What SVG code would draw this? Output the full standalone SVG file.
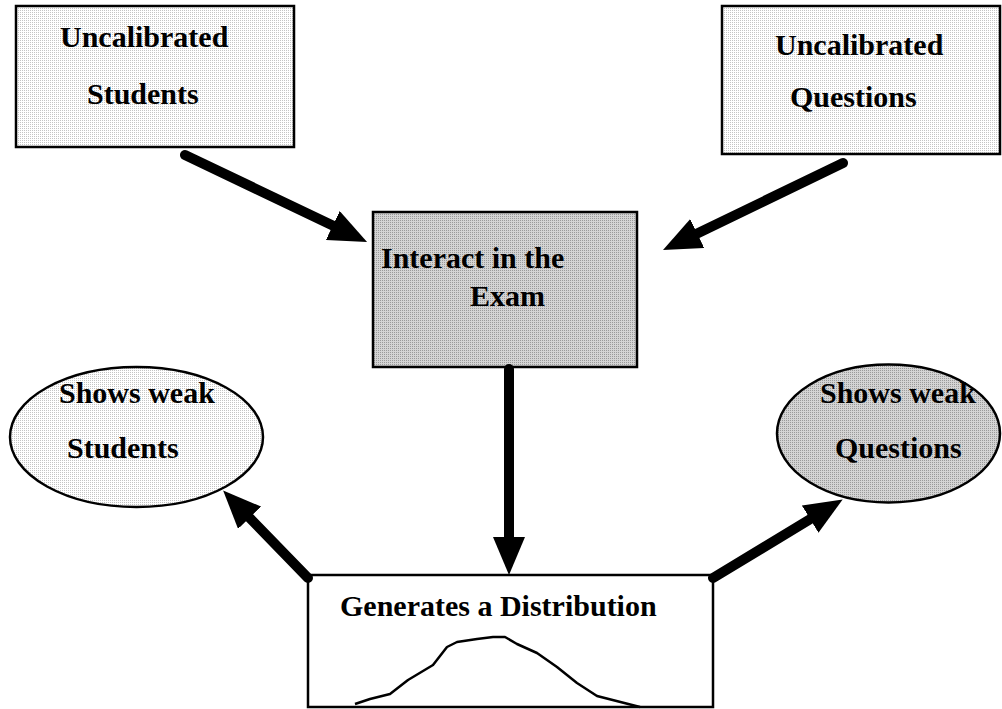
<svg xmlns="http://www.w3.org/2000/svg" width="1002" height="709" viewBox="0 0 1002 709">
  <defs>
    <!-- fine dot screens used as node fills -->
    <pattern id="dotLight" width="2" height="2" patternUnits="userSpaceOnUse">
      <rect width="2" height="2" fill="#ffffff"/>
      <rect width="1" height="1" fill="#c4c4c4"/>
    </pattern>
    <pattern id="dotDark" width="2" height="2" patternUnits="userSpaceOnUse">
      <rect width="2" height="2" fill="#d4d4d4"/>
      <rect width="1" height="1" fill="#9a9a9a"/>
    </pattern>
    <marker id="head" markerUnits="userSpaceOnUse" markerWidth="38" markerHeight="32" refX="8" refY="16" orient="auto">
      <path d="M0,0 L38,16 L0,32 Z" fill="#000"/>
    </marker>
  </defs>
  <style>
    .lbl { font-family: "Liberation Serif", "Times New Roman", serif; font-weight: bold; font-size: 30px; fill: #000; }
    .box { stroke: #000; stroke-width: 2.5; }
    .arrow { stroke: #000; stroke-width: 10; stroke-linecap: round; fill: none; marker-end: url(#head); }
  </style>

  <rect width="1002" height="709" fill="#ffffff"/>

  <g id="uncalibrated-students">
    <rect class="box" x="16" y="6" width="278" height="141" fill="url(#dotLight)"/>
    <text class="lbl" x="60" y="47">Uncalibrated</text>
    <text class="lbl" x="87" y="104">Students</text>
  </g>

  <g id="uncalibrated-questions">
    <rect class="box" x="722" y="6" width="278" height="148" fill="url(#dotLight)"/>
    <text class="lbl" x="775" y="55">Uncalibrated</text>
    <text class="lbl" x="790" y="107">Questions</text>
  </g>

  <g id="interact">
    <rect class="box" x="373" y="212" width="264" height="155" fill="url(#dotDark)"/>
    <text class="lbl" x="381" y="268">Interact in the</text>
    <text class="lbl" x="470" y="306">Exam</text>
  </g>

  <g id="weak-students">
    <ellipse class="box" cx="136.5" cy="437" rx="126.5" ry="70" fill="url(#dotLight)"/>
    <text class="lbl" x="59" y="403">Shows weak</text>
    <text class="lbl" x="67" y="458">Students</text>
  </g>

  <g id="weak-questions">
    <ellipse class="box" cx="888.5" cy="433.5" rx="111.5" ry="69" fill="url(#dotDark)"/>
    <text class="lbl" x="820" y="403">Shows weak</text>
    <text class="lbl" x="835" y="458">Questions</text>
  </g>

  <g id="distribution">
    <rect class="box" x="308" y="575" width="405" height="132" fill="#ffffff"/>
    <text class="lbl" x="340" y="616">Generates a Distribution</text>
    <polyline fill="none" stroke="#000" stroke-width="2.5" stroke-linejoin="round"
      points="355,704 370,699 390,694 408,680 433,665 447,647 457,642 477,639 493,637 505,637 517,644 537,653 557,667 577,683 597,696 640,707"/>
  </g>

  <g id="connectors">
    <line class="arrow" x1="185" y1="155" x2="340" y2="229"/>
    <line class="arrow" x1="843" y1="163" x2="690" y2="237"/>
    <line class="arrow" x1="509" y1="369" x2="509" y2="545"/>
    <line class="arrow" x1="308" y1="578" x2="244" y2="512"/>
    <line class="arrow" x1="713" y1="578" x2="817" y2="515"/>
  </g>
</svg>
